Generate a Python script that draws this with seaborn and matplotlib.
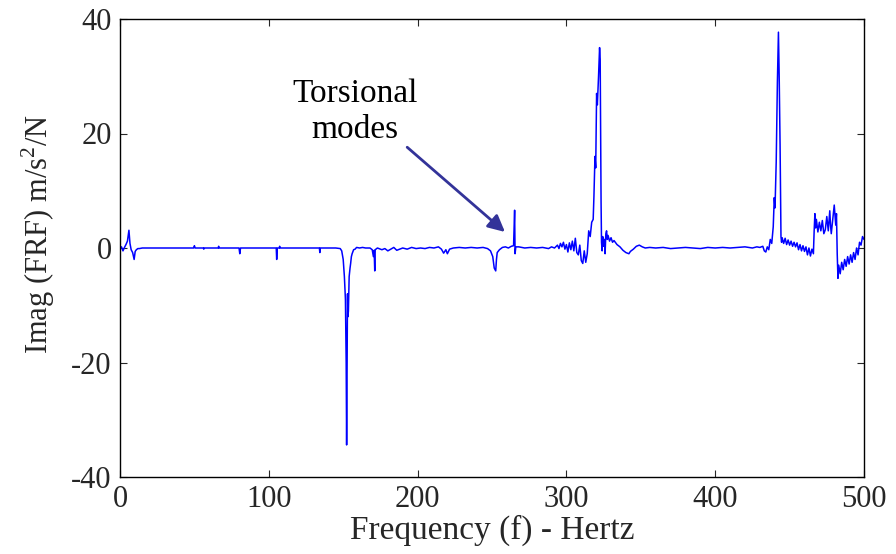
import matplotlib
matplotlib.use("Agg")
import matplotlib.pyplot as plt
import seaborn as sns
import pandas as pd

# ---- data ----
freq_hz = [
    0, 1, 2, 3, 4, 5, 6, 6.7, 7.5, 8.5, 9.5, 10.2, 11, 12, 13, 15, 20,
    49.5, 50, 50.5, 56, 56.3, 56.6, 66, 66.3, 66.6, 80, 80.5, 81, 105, 105.3, 105.7, 107, 107.3, 107.6,
    120, 134, 134.3, 134.6, 145, 148, 149, 150, 150.8, 151.5, 152.0, 152.3, 152.6, 152.9, 153.2, 153.5,
    154, 154.6, 155, 155.5, 156, 157, 158, 159, 161, 163, 165, 168, 169.5, 170.3, 170.8, 171.2, 171.5,
    173, 175, 176, 178, 180, 182, 184, 186, 188, 190, 193, 196, 199, 202, 205, 208, 211, 214, 216,
    217.5, 219, 220, 221.5, 224, 228, 232, 236, 240, 244, 247, 249, 250.5, 251.5, 252.5, 253, 253.5,
    255, 257, 259, 261, 263, 264.5, 265.2, 265.5, 266, 268, 272, 276, 280, 284, 288, 290, 292, 294,
    295, 296, 297, 298, 299, 300, 301, 302, 303, 304, 305, 306, 307, 308, 309, 310, 311, 312, 313,
    314, 315, 316, 317, 318, 318.5, 319.2, 319.7, 320.3, 320.8, 321.6, 322.3, 322.7, 323.3, 323.6,
    324, 324.4, 325, 325.5, 326, 326.5, 327, 327.5, 328, 329, 330, 331, 332, 334, 336, 338, 340, 342,
    343, 345, 347, 349, 351, 353, 356, 360, 365, 370, 375, 380, 385, 390, 395, 400, 405, 410, 415,
    420, 425, 428, 430, 432, 433, 434, 435, 436, 437, 438, 439, 439.7, 440.2, 441, 441.8, 442.5, 443,
    443.6, 444.2, 444.6, 445, 446, 447, 448, 449, 450, 451, 452, 453, 454, 455, 456, 457, 458, 459,
    460, 461, 462, 463, 464, 465, 466, 466.5, 467, 467.5, 468, 469, 470, 471, 472, 473, 474, 475,
    476, 477, 477.5, 478, 479, 480, 481, 481.5, 482, 482.5, 483, 484, 485, 486, 487, 488, 489, 490,
    491, 492, 493, 494, 495, 496, 497, 498, 499, 500,
]
imag_frf = [
    -0.3, 0.2, -0.5, 0.1, 0.6, 1.2, 3.1, 0.8, -0.3, -0.8, -2.0, -0.6, -0.3, -0.1, -0.1, 0.0, 0.0,
    0.0, 0.4, 0.0, 0.0, -0.2, 0.0, 0.0, 0.3, 0.0, 0.0, -1.0, 0.0, 0.0, -2.0, 0.0, 0.0, 0.3, 0.0,
    0.0, 0.0, -0.8, 0.0, 0.0, -0.1, -0.5, -2.0, -5.0, -9.0, -20.0, -34.4, -20.0, -8.0, -12.0, -11.0,
    -5.0, -3.5, -2.7, -1.5, -1.0, -0.3, -0.2, 0.1, 0.0, 0.1, 0.0, 0.0, -0.3, -1.5, -0.4, -4.0, -0.3,
    0.0, -0.2, -0.3, -0.1, -0.5, -0.2, 0.1, -0.4, -0.2, 0.0, -0.2, 0.1, -0.1, 0.0, -0.1, 0.1, 0.0, 0.2, -0.2,
    -0.9, -0.3, -1.0, -0.2, 0.0, 0.1, 0.0, 0.1, 0.0, 0.1, -0.1, -0.5, -1.5, -3.5, -4.0, -2.0, -0.8,
    -0.3, 0.1, 0.2, 0.0, 0.3, 0.4, 6.6, -1.0, 0.2, 0.2, 0.0, 0.1, 0.0, 0.1, -0.1, 0.2, 0.0, 0.5,
    -0.1, 0.8, 0.2, 1.0, -0.2, 0.6, -0.7, 0.9, -0.3, 1.2, -0.5, 1.7, -0.8, -1.2, 0.5, -2.2, -2.7, -0.5, -2.5,
    -1.0, 3.0, 2.0, 4.5, 5.0, 9.0, 16.0, 14.0, 27.0, 25.0, 30.0, 35.0, 33.0, 8.0, 1.0,
    -0.5, 2.0, 0.3, 1.5, -1.0, 2.5, 3.0, 1.5, 2.2, 1.2, 1.8, 1.0, 1.3, 0.6, 0.2, -0.4, -0.8, -1.0,
    -0.6, -0.2, 0.3, 0.5, 0.2, 0.0, 0.1, 0.0, 0.1, -0.1, 0.0, 0.1, 0.0, -0.1, 0.1, 0.0, 0.1, 0.0, 0.1,
    0.2, 0.0, 0.2, 0.1, 0.3, -0.5, -0.7, 0.2, -0.3, 1.5, 0.8, 3.7, 8.8, 7.0, 15.0, 29.0, 37.7, 30.0,
    18.0, 2.0, 1.0, 1.8, 0.8, 1.7, 0.6, 1.4, 0.5, 1.2, 0.3, 1.0, 0.2, 0.9, -0.3, 0.6, -0.5, 0.4,
    -0.6, 0.2, -1.2, 0.0, -1.4, -0.2, -1.0, 3.0, 6.0, 3.5, 5.0, 2.8, 4.5, 3.0, 4.8, 2.5, 3.2, 5.5,
    3.0, 6.5, 4.0, 2.5, 5.0, 7.5, 4.0, 6.0, -1.0, -5.3, -3.0, -4.5, -2.5, -3.8, -2.0, -3.2, -1.5, -2.8,
    -1.2, -2.5, -0.8, -2.0, 0.0, -1.2, 1.0, 0.5, 2.0, 1.5,
]
x_ticks = [0, 100, 200, 300, 400, 500]
y_ticks = [-40, -20, 0, 20, 40]
annotation_text = "Torsional\nmodes"

df = pd.DataFrame({"f": freq_hz, "v": imag_frf})

sns.set_style("ticks")
plt.rcParams["font.family"] = ["Liberation Serif", "DejaVu Serif"]
plt.rcParams["mathtext.fontset"] = "custom"
plt.rcParams["mathtext.rm"] = "Liberation Serif"

fig = plt.figure(figsize=(8.96, 5.54), dpi=100)
ax = fig.add_axes([120 / 896, 1 - 477 / 554, 744 / 896, 458 / 554])

sns.lineplot(data=df, x="f", y="v", ax=ax, color="#0000ff", linewidth=1.1,
             estimator=None, sort=False)

ax.set_xlim(0, 500)
ax.set_ylim(-40, 40)
ax.set_xticks(x_ticks)
ax.set_yticks(y_ticks)
ax.set_xticklabels([str(t) for t in x_ticks])
ax.set_yticklabels([str(t) for t in y_ticks])
ax.tick_params(direction="in", length=5, width=0.8, labelsize=22,
               top=True, right=True, pad=6)
for s in ax.spines.values():
    s.set_linewidth(1.0)
    s.set_color("black")

ax.set_xlabel("Frequency (f) - Hertz", fontsize=24, labelpad=0)
ax.set_ylabel("Imag (FRF) m/s$^2$/N", fontsize=22, labelpad=6)
ax.yaxis.set_label_coords(-0.085, 0.53)

ax.text(158, 23.8, annotation_text, ha="center", va="center", fontsize=24,
        linespacing=1.25, color="black")
ax.annotate("", xy=(258.7, 2.8), xytext=(193, 17.6),
            arrowprops=dict(arrowstyle="-|>,head_length=1.0,head_width=0.5",
                            color="#333399", lw=2.0, shrinkA=0, shrinkB=0))

fig.savefig("out.png", dpi=100)
